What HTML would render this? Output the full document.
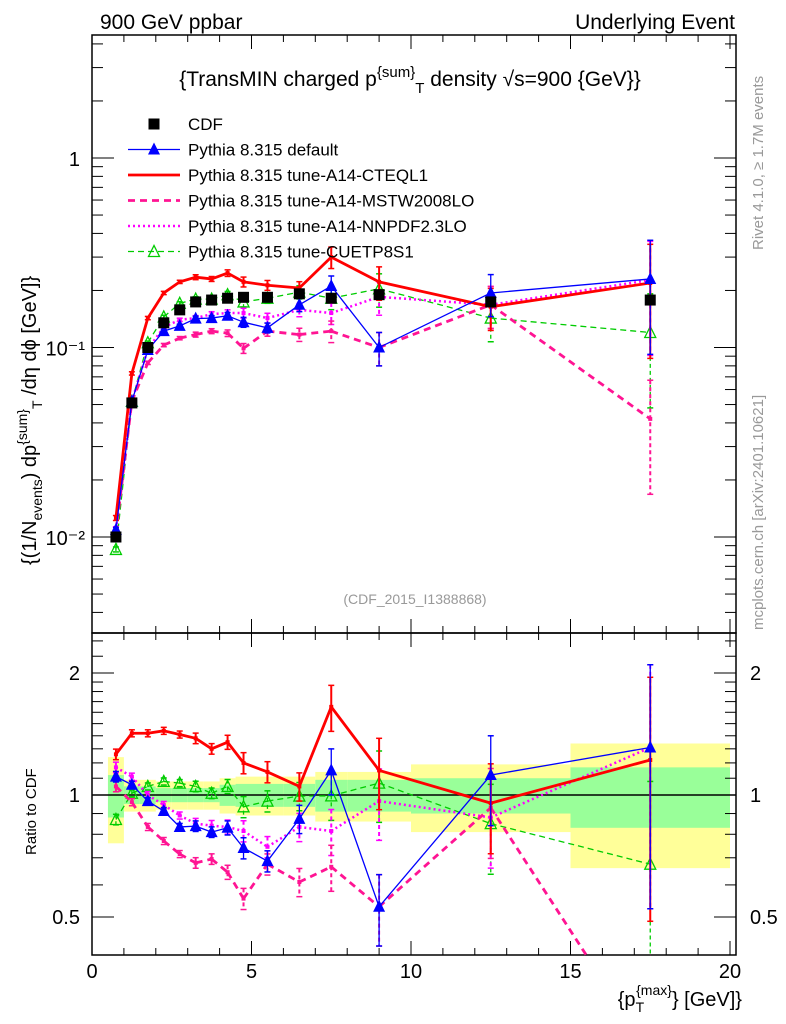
<!DOCTYPE html>
<html><head><meta charset="utf-8"><style>
html,body{margin:0;padding:0;background:#fff;width:786px;height:1024px;overflow:hidden;}
svg{display:block;font-family:"Liberation Sans",sans-serif;overflow:hidden;}
</style></head><body>
<svg id="c" width="786" height="1024" xmlns="http://www.w3.org/2000/svg">
<text x="100" y="29" font-size="21">900 GeV ppbar</text>
<text x="735" y="29" font-size="21" text-anchor="end">Underlying Event</text>
<text x="410" y="86" font-size="21" text-anchor="middle">{TransMIN charged p<tspan dy="-9" font-size="15">{sum}</tspan><tspan dy="16" font-size="15">T</tspan><tspan dy="-7"> density √s=900 {GeV}}</tspan></text>
<text x="415" y="604" font-size="14" fill="#999" text-anchor="middle">(CDF_2015_I1388868)</text>
<text transform="translate(763,250) rotate(-90)" font-size="15" fill="#999">Rivet 4.1.0, ≥ 1.7M events</text>
<text transform="translate(763,630) rotate(-90)" font-size="15" fill="#999">mcplots.cern.ch [arXiv:2401.10621]</text>
<text transform="translate(36,565) rotate(-90)" font-size="20">{(1/N<tspan dy="6" font-size="14">events</tspan><tspan dy="-6">) dp</tspan><tspan dy="-9" font-size="14">{sum}</tspan><tspan dy="15" font-size="14">T</tspan><tspan dy="-6"> /dη dϕ [GeV]}</tspan></text>
<text transform="translate(36,855) rotate(-90)" font-size="15">Ratio to CDF</text>
<text x="742" y="1006" font-size="20" text-anchor="end">{p<tspan dy="6" font-size="14">T</tspan><tspan dy="-17" font-size="14" dx="-8">{max}</tspan><tspan dy="11">} [GeV]}</tspan></text>
<g id="bands"></g><g id="axes"></g><g id="marks"></g><g id="legend"></g>
</svg>
<script>
const xCenters=[0.75,1.25,1.75,2.25,2.75,3.25,3.75,4.25,4.75,5.5,6.5,7.5,9,12.5,17.5];
const binEdges=[0.5,1,1.5,2,2.5,3,3.5,4,4.5,5,6,7,8,10,15,20];
const cdf=[0.01,0.051,0.1,0.135,0.158,0.174,0.178,0.182,0.184,0.184,0.192,0.182,0.19,0.174,0.178];
const bandYellow=[0.24,0.09,0.09,0.08,0.08,0.08,0.08,0.1,0.11,0.11,0.11,0.14,0.14,0.19,0.34];
const bandGreen=[0.12,0.05,0.05,0.04,0.04,0.04,0.04,0.06,0.065,0.065,0.065,0.09,0.09,0.1,0.17];
const defVals=[0.0109,0.052,0.097,0.122,0.13,0.142,0.143,0.147,0.136,0.127,0.168,0.211,0.1,0.194,0.23];
const defRatio=[1.11,1.06,0.966,0.913,0.834,0.838,0.81,0.83,0.74,0.687,0.873,1.15,0.53,1.12,1.31];
const a14Vals=[0.0126,0.073,0.143,0.194,0.222,0.235,0.23,0.247,0.222,0.213,0.206,0.30,0.222,0.164,0.219];
const a14Ratio=[1.26,1.42,1.42,1.44,1.41,1.38,1.30,1.35,1.20,1.14,1.05,1.65,1.15,0.955,1.22];
const mstwVals=[0.0106,0.052,0.083,0.103,0.112,0.117,0.122,0.119,0.099,0.122,0.117,0.122,0.1,0.168,0.042];
const mstwRatio=[1.05,0.96,0.834,0.77,0.715,0.68,0.695,0.645,0.555,0.675,0.61,0.665,0.53,0.93,0.23];
const nnVals=[0.011,0.052,0.098,0.128,0.14,0.143,0.15,0.152,0.152,0.143,0.158,0.152,0.185,0.168,0.227];
const nnRatio=[1.17,1.11,1.0,0.945,0.89,0.85,0.84,0.834,0.815,0.745,0.834,0.815,0.966,0.88,1.31];
const cuVals=[0.0086,0.052,0.106,0.145,0.171,0.18,0.18,0.19,0.174,0.182,0.196,0.182,0.204,0.143,0.12];
const cuRatio=[0.87,1.01,1.05,1.08,1.07,1.05,1.01,1.05,0.935,0.966,0.994,0.995,1.07,0.85,0.675];
const relErr=[0.03,0.02,0.02,0.02,0.02,0.03,0.03,0.04,0.06,0.06,0.08,0.13,0.2,0.25,0.6];
const yTickLabels=["10⁻²","10⁻¹","1"];
const xTickLabels=["0","5","10","15","20"];
const rTickLabels=["0.5","1","2"];

const NS="http://www.w3.org/2000/svg";
const L=92,R=736,T=35,M=633,B=955;
const X=v=>L+v*31.9;
const Y=v=>158-Math.log10(v)*189.5;
const YR=v=>795-Math.log2(v)*122;
function el(tag,attrs,parent){const e=document.createElementNS(NS,tag);for(const k in attrs)e.setAttribute(k,attrs[k]);parent.appendChild(e);return e;}
const axes=document.getElementById('axes'),marks=document.getElementById('marks'),bands=document.getElementById('bands'),leg=document.getElementById('legend');

for(let i=0;i<xCenters.length;i++){
  const x0=X(binEdges[i]),x1=X(binEdges[i+1]);
  let r=el('rect',{x:x0,y:YR(1+bandYellow[i]),width:x1-x0,height:YR(1-bandYellow[i])-YR(1+bandYellow[i]),fill:'#ffff99'},bands);
  
  
  r=el('rect',{x:x0,y:YR(1+bandGreen[i]),width:x1-x0,height:YR(1-bandGreen[i])-YR(1+bandGreen[i]),fill:'#99ff99'},bands);
  
  
}
el('line',{x1:L,x2:R,y1:YR(1),y2:YR(1),stroke:'#000','stroke-width':1.5},bands);

let f=el('rect',{x:L,y:T,width:R-L,height:M-T,fill:'none',stroke:'#000','stroke-width':1.5},axes);


f=el('rect',{x:L,y:M,width:R-L,height:B-M,fill:'none',stroke:'#000','stroke-width':1.5},axes);


for(let v=0;v<=20;v++){
  const len=v%5==0?14:7;
  for(const [yb,d] of [[M,-1],[B,-1],[T,1],[M,1]]){
    el('line',{x1:X(v),x2:X(v),y1:yb,y2:yb+d*len,stroke:'#000'},axes);
  }
}
xTickLabels.forEach((t,i)=>{const tx=el('text',{x:X(i*5),y:978,'font-size':20,'text-anchor':'middle'},axes);tx.textContent=t;

});
for(let e=-3;e<=0;e++)for(let m=1;m<10;m++){
  const v=m*Math.pow(10,e);const y=Y(v);if(y<T||y>M)continue;
  const len=m==1?22:11;
  el('line',{x1:L,x2:L+len,y1:y,y2:y,stroke:'#000'},axes);
  el('line',{x1:R,x2:R-len,y1:y,y2:y,stroke:'#000'},axes);
}
yTickLabels.forEach((t,i)=>{const tx=el('text',{x:i==2?80:85,y:Y(Math.pow(10,i-2))+8,'font-size':20,'text-anchor':'end'},axes);tx.textContent=t;

});
const rt=[0.5,0.6,0.7,0.8,0.9,1,1.1,1.2,1.3,1.4,1.5,1.6,1.7,1.8,1.9,2,2.2,2.4];
rt.forEach(v=>{const y=YR(v);const len=(v==0.5||v==1||v==2)?22:11;
  el('line',{x1:L,x2:L+len,y1:y,y2:y,stroke:'#000'},axes);
  el('line',{x1:R,x2:R-len,y1:y,y2:y,stroke:'#000'},axes);});
rTickLabels.forEach((t,i)=>{const v=[0.5,1,2][i];
  let tx=el('text',{x:80,y:YR(v)+7,'font-size':20,'text-anchor':'end'},axes);tx.textContent=t;
  
  
  tx=el('text',{x:750,y:YR(v)+7,'font-size':20},axes);tx.textContent=t;
  
  });

function marker(type,x,y,color,g){
  if(type=='tri') el('polygon',{points:`${x},${y-7} ${x-6},${y+5} ${x+6},${y+5}`,fill:color},g);
  else if(type=='otri') el('polygon',{points:`${x},${y-6} ${x-5.5},${y+5} ${x+5.5},${y+5}`,fill:'none',stroke:color,'stroke-width':1.3},g);
  else if(type=='sq') el('rect',{x:x-5.5,y:y-5.5,width:11,height:11,fill:color},g);
  else if(type=='dot') el('rect',{x:x-2,y:y-2,width:4,height:4,fill:color},g);
}
// clip segment list to y range
function clippedSegments(px,py,y0,y1){
  const segs=[];
  for(let i=0;i<px.length-1;i++){
    let ax=px[i],ay=py[i],bx=px[i+1],by=py[i+1];
    const clampPt=(x1,yy1,x2,yy2,lim)=>[x1+(x2-x1)*(lim-yy1)/(yy2-yy1),lim];
    if((ay<y0&&by<y0)||(ay>y1&&by>y1))continue;
    if(ay>y1)[ax,ay]=clampPt(ax,ay,bx,by,y1);
    if(by>y1)[bx,by]=clampPt(bx,by,ax,ay,y1);
    if(ay<y0)[ax,ay]=clampPt(ax,ay,bx,by,y0);
    if(by<y0)[bx,by]=clampPt(bx,by,ax,ay,y0);
    segs.push(`M${ax},${ay}L${bx},${by}`);
  }
  return segs.join('');
}
const series=[
 {name:'pythia-cuetp8s1',v:cuVals,r:cuRatio,color:'#00cc00',w:1.3,dash:'6,4',m:'otri'},
 {name:'pythia-a14-nnpdf',v:nnVals,r:nnRatio,color:'#ff00ff',w:2.5,dash:'2,3',m:'dot'},
 {name:'pythia-a14-mstw',v:mstwVals,r:mstwRatio,color:'#ff1493',w:2.8,dash:'7,5',m:'dot'},
 {name:'pythia-a14-cteql1',v:a14Vals,r:a14Ratio,color:'#ff0000',w:2.8,dash:'',m:'dot'},
 {name:'pythia-default',v:defVals,r:defRatio,color:'#0000ff',w:1.3,dash:'',m:'tri'},
];
const cl=(y,a,b)=>Math.min(Math.max(y,a),b);
series.forEach(s=>{
  for(const [vals,Yf,y0,y1,panel] of [[s.v,Y,T,M,'main'],[s.r,YR,M,B,'ratio']]){
    const g=el('g',{},marks);
    
    
    const px=xCenters.map(X),py=vals.map(Yf);
    const pl=el('path',{d:clippedSegments(px,py,y0,y1),fill:'none',stroke:s.color,'stroke-width':s.w,'stroke-dasharray':s.dash},g);
    
    
    xCenters.forEach((x,i)=>{
      const e=relErr[i];const hi=cl(Yf(vals[i]*(1+e)),y0,y1),lo=cl(Yf(Math.max(vals[i]*(1-e),1e-4)),y0,y1);
      el('line',{x1:X(x),x2:X(x),y1:hi,y2:lo,stroke:s.color,'stroke-width':Math.min(s.w,2),'stroke-dasharray':s.dash?'4,3':''},g);
      if(hi>y0&&hi<y1)el('line',{x1:X(x)-3,x2:X(x)+3,y1:hi,y2:hi,stroke:s.color,'stroke-width':1.5},g);
      if(lo>y0&&lo<y1)el('line',{x1:X(x)-3,x2:X(x)+3,y1:lo,y2:lo,stroke:s.color,'stroke-width':1.5},g);
      const yy=Yf(vals[i]);
      if(yy>y0+6&&yy<y1-6)marker(s.m,X(x),yy,s.color,g);
    });
  }
});
const gc=el('g',{},marks);


xCenters.forEach((x,i)=>marker('sq',X(x),Y(cdf[i]),'#000',gc));

const legItems=[['CDF','sq','#000','',1],['Pythia 8.315 default','tri','#0000ff','',1.3],['Pythia 8.315 tune-A14-CTEQL1','','#ff0000','',2.8],
['Pythia 8.315 tune-A14-MSTW2008LO','','#ff1493','7,5',2.8],['Pythia 8.315 tune-A14-NNPDF2.3LO','','#ff00ff','2,3',2.5],['Pythia 8.315 tune-CUETP8S1','otri','#00cc00','6,4',1.3]];
legItems.forEach((it,i)=>{
  const y=124+i*25.5;
  const g=el('g',{},leg);
  
  
  if(i>0) el('line',{x1:128,x2:180,y1:y,y2:y,stroke:it[2],'stroke-width':it[4],'stroke-dasharray':it[3]},g);
  if(it[1]) marker(it[1],154,y,it[2],g);
  const t=el('text',{x:188,y:y+6,'font-size':17},g);t.textContent=it[0];
});
</script>
</body></html>
